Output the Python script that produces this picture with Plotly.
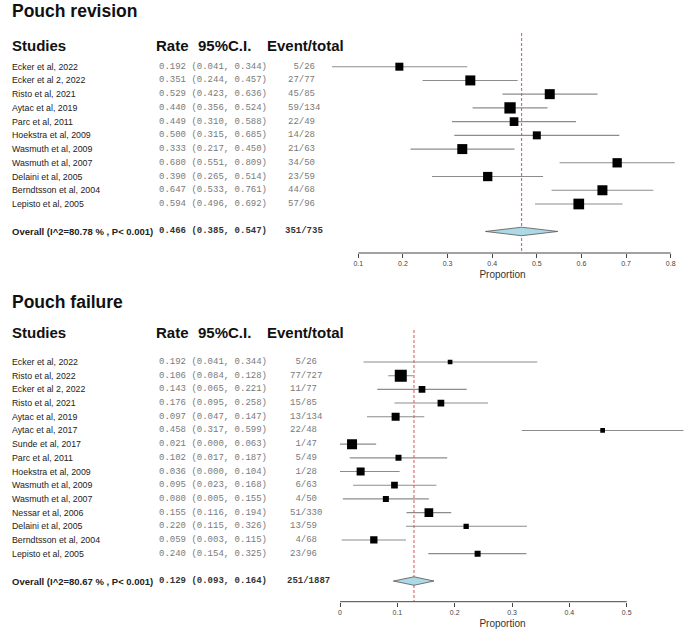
import plotly.graph_objects as go

# ---------------- data ----------------
studies_rev = ["Ecker et al, 2022", "Ecker et al 2, 2022", "Risto et al, 2021", "Aytac et al, 2019",
               "Parc et al, 2011", "Hoekstra et al, 2009", "Wasmuth et al, 2009", "Wasmuth et al, 2007",
               "Delaini et al, 2005", "Berndtsson et al, 2004", "Lepisto et al, 2005"]
rate_rev = [0.192, 0.351, 0.529, 0.440, 0.449, 0.500, 0.333, 0.680, 0.390, 0.647, 0.594]
lo_rev = [0.041, 0.244, 0.423, 0.356, 0.310, 0.315, 0.217, 0.551, 0.265, 0.533, 0.496]
hi_rev = [0.344, 0.457, 0.636, 0.524, 0.588, 0.685, 0.450, 0.809, 0.514, 0.761, 0.692]
events_rev = ["5/26", "27/77", "45/85", "59/134", "22/49", "14/28", "21/63", "34/50", "23/59", "44/68", "57/96"]
weight_rev = [8, 10, 10, 11.3, 8.7, 8, 10, 9.3, 9.3, 10, 10.7]   # relative box size
overall_rev = [0.466, 0.385, 0.547]
overall_rev_events = "351/735"
overall_rev_label = "Overall (I^2=80.78 % , P< 0.001)"
ticks_rev = [0.1, 0.2, 0.3, 0.4, 0.5, 0.6, 0.7, 0.8]

studies_fail = ["Ecker et al, 2022", "Risto et al, 2022", "Ecker et al 2, 2022", "Risto et al, 2021",
                "Aytac et al, 2019", "Aytac et al, 2017", "Sunde et al, 2017", "Parc et al, 2011",
                "Hoekstra et al, 2009", "Wasmuth et al, 2009", "Wasmuth et al, 2007", "Nessar et al, 2006",
                "Delaini et al, 2005", "Berndtsson et al, 2004", "Lepisto et al, 2005"]
rate_fail = [0.192, 0.106, 0.143, 0.176, 0.097, 0.458, 0.021, 0.102, 0.036, 0.095, 0.080, 0.155, 0.220, 0.059, 0.240]
lo_fail = [0.041, 0.084, 0.065, 0.095, 0.047, 0.317, 0.000, 0.017, 0.000, 0.023, 0.005, 0.116, 0.115, 0.003, 0.154]
hi_fail = [0.344, 0.128, 0.221, 0.258, 0.147, 0.599, 0.063, 0.187, 0.104, 0.168, 0.155, 0.194, 0.326, 0.115, 0.325]
events_fail = ["5/26", "77/727", "11/77", "15/85", "13/134", "22/48", "1/47", "5/49", "1/28", "6/63",
               "4/50", "51/330", "13/59", "4/68", "23/96"]
weight_fail = [4.7, 12, 6.7, 6.7, 8, 4.7, 10, 6, 8, 6.7, 6, 8.7, 5.3, 7.3, 6]
overall_fail = [0.129, 0.093, 0.164]
overall_fail_events = "251/1887"
overall_fail_label = "Overall (I^2=80.67 % , P< 0.001)"
ticks_fail = [0, 0.1, 0.2, 0.3, 0.4, 0.5]

# ---------------- layout helpers ----------------
W, H = 685, 634
def px(x):
    return x / W
def py(y):
    return 1 - y / H

SANS = "Liberation Sans, Arial, sans-serif"
MONO = "Liberation Mono, Courier New, monospace"

fig = go.Figure()
annotations = []
shapes = []

def panel(title, studies, rate, lo, hi, events, weight, overall, ov_events, ov_label, ticks,
          xa, ya, title_y, header_y, row0_px, step_px, top_px, axis_px, xr, dash_top_px, ev_x):
    n = len(studies)
    xref = "x" if xa == 1 else f"x{xa}"
    yref = "y" if ya == 1 else f"y{ya}"
    ov_idx = n + 1
    # CI lines
    cx, cy = [], []
    for i in range(n):
        cx += [lo[i], hi[i], None]
        cy += [-i, -i, None]
    fig.add_trace(go.Scatter(x=cx, y=cy, mode="lines", line=dict(color="#8c8c8c", width=1.1),
                             xaxis=xref, yaxis=yref, hoverinfo="skip", showlegend=False))
    # dashed overall line
    top_val = -(dash_top_px - row0_px) / step_px
    bot_val = -(axis_px - row0_px) / step_px
    fig.add_trace(go.Scatter(x=[overall[0], overall[0]], y=[top_val, bot_val], mode="lines",
                             line=dict(color="#d9534f", width=1, dash="3px,2px"),
                             xaxis=xref, yaxis=yref, hoverinfo="skip", showlegend=False))
    # boxes
    fig.add_trace(go.Scatter(x=rate, y=[-i for i in range(n)], mode="markers",
                             marker=dict(symbol="square", size=weight, color="black", opacity=1,
                                         line=dict(width=0)),
                             xaxis=xref, yaxis=yref, hoverinfo="skip", showlegend=False))
    # diamond
    h = 0.31
    fig.add_trace(go.Scatter(x=[overall[1], overall[0], overall[2], overall[0], overall[1]],
                             y=[-ov_idx, -ov_idx + h, -ov_idx, -ov_idx - h, -ov_idx],
                             mode="lines", fill="toself", fillcolor="#add8e6",
                             line=dict(color="#555555", width=0.8),
                             xaxis=xref, yaxis=yref, hoverinfo="skip", showlegend=False))
    # axis line (only across tick range)
    shapes.append(dict(type="line", xref=xref, yref=f"{yref} domain", x0=ticks[0], x1=ticks[-1],
                       y0=0, y1=0, line=dict(color="#444444", width=1)))
    # title + headers
    annotations.append(dict(text=f"<b>{title}</b>", xref="paper", yref="paper", x=px(10), y=py(title_y),
                            xanchor="left", yanchor="middle", showarrow=False,
                            font=dict(family=SANS, size=17.5, color="#111111")))
    for txt, x in [("Studies", 10), ("Rate", 154), ("95%C.I.", 196), ("Event/total", 265)]:
        annotations.append(dict(text=f"<b>{txt}</b>", xref="paper", yref="paper", x=px(x), y=py(header_y),
                                xanchor="left", yanchor="middle", showarrow=False,
                                font=dict(family=SANS, size=15, color="#111111")))
    # rows
    for i in range(n):
        annotations.append(dict(text=studies[i], xref="paper", yref=yref, x=px(10), y=-i,
                                xanchor="left", yanchor="middle", showarrow=False,
                                font=dict(family=SANS, size=8.8, color="#222222")))
        annotations.append(dict(text=f"{rate[i]:.3f} ({lo[i]:.3f}, {hi[i]:.3f})".replace(" ", "&nbsp;"),
                                xref="paper", yref=yref, x=px(157), y=-i,
                                xanchor="left", yanchor="middle", showarrow=False,
                                font=dict(family=MONO, size=9, color="#7a7a7a")))
        annotations.append(dict(text=events[i].rjust(5).replace(" ", "&nbsp;"), xref="paper", yref=yref,
                                x=px(ev_x), y=-i, xanchor="left", yanchor="middle", showarrow=False,
                                font=dict(family=MONO, size=9, color="#7a7a7a")))
    annotations.append(dict(text=f"<b>{ov_label}</b>", xref="paper", yref=yref, x=px(10), y=-ov_idx,
                            xanchor="left", yanchor="middle", showarrow=False,
                            font=dict(family=SANS, size=9.5, color="#222222")))
    annotations.append(dict(text=f"<b>{overall[0]:.3f} ({overall[1]:.3f}, {overall[2]:.3f})</b>".replace(" ", "&nbsp;"),
                            xref="paper", yref=yref, x=px(157), y=-ov_idx,
                            xanchor="left", yanchor="middle", showarrow=False,
                            font=dict(family=MONO, size=9, color="#333333")))
    annotations.append(dict(text=f"<b>{ov_events}</b>", xref="paper", yref=yref, x=px(ev_x - 3), y=-ov_idx,
                            xanchor="left", yanchor="middle", showarrow=False,
                            font=dict(family=MONO, size=9, color="#333333")))
    # axes
    yr = [-(axis_px - row0_px) / step_px, -(top_px - row0_px) / step_px]
    xaxis = dict(domain=[px(320), 1], range=xr, showgrid=False, zeroline=False, showline=False,
                 ticks="outside", ticklen=4, tickwidth=1, tickcolor="#444444",
                 tickvals=ticks, ticktext=[("%g" % t) for t in ticks],
                 tickfont=dict(family=SANS, size=7, color="#444444"),
                 title=dict(text="Proportion", font=dict(family=SANS, size=10, color="#333333"), standoff=4),
                 anchor=yref, fixedrange=True)
    yaxis = dict(domain=[py(axis_px), py(top_px)], range=yr, visible=False, anchor=xref, fixedrange=True)
    return xaxis, yaxis

# top panel: 0.1 -> 358.3px, 0.8 -> 670.7px
k1 = (670.7 - 358.3) / 0.7
xr1 = [0.1 - (358.3 - 320) / k1, 0.1 + (685 - 358.3) / k1]
xa1, ya1 = panel("Pouch revision", studies_rev, rate_rev, lo_rev, hi_rev, events_rev, weight_rev,
                 overall_rev, overall_rev_events, overall_rev_label, ticks_rev,
                 1, 1, 11, 45, 66.7, 13.73, 28, 253, xr1, 33, 286)
# bottom panel: 0 -> 340px, 0.5 -> 626.7px
k2 = (626.7 - 340) / 0.5
xr2 = [-(340 - 320) / k2, (685 - 340) / k2]
xa2, ya2 = panel("Pouch failure", studies_fail, rate_fail, lo_fail, hi_fail, events_fail, weight_fail,
                 overall_fail, overall_fail_events, overall_fail_label, ticks_fail,
                 2, 2, 302, 333, 362, 13.69, 322, 601.7, xr2, 330, 288)

fig.update_layout(
    width=W, height=H, margin=dict(l=0, r=0, t=0, b=0),
    paper_bgcolor="white", plot_bgcolor="white",
    xaxis=xa1, yaxis=ya1, xaxis2=xa2, yaxis2=ya2,
    annotations=annotations, shapes=shapes, showlegend=False, hovermode=False,
)

fig.write_html("out.html", config={"displayModeBar": False, "staticPlot": True},
               post_script="document.body.style.margin='0';document.body.style.overflow='hidden';")
